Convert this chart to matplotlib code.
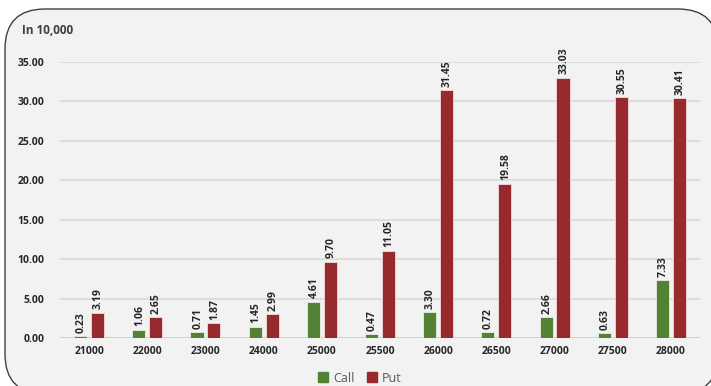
import numpy as np
import matplotlib.pyplot as plt
from matplotlib.patches import FancyBboxPatch, Patch
from matplotlib.transforms import IdentityTransform

strikes = ["21000", "22000", "23000", "24000", "25000", "25500",
           "26000", "26500", "27000", "27500", "28000"]
call_oi = [0.23, 1.06, 0.71, 1.45, 4.61, 0.47, 3.30, 0.72, 2.66, 0.63, 7.33]
put_oi = [3.19, 2.65, 1.87, 2.99, 9.70, 11.05, 31.45, 19.58, 33.03, 30.55, 30.41]

CALL_COLOR = "#548235"
PUT_COLOR = "#962a2c"
TEXT_COLOR = "#262626"

plt.rcParams['font.family'] = ['Open Sans', 'DejaVu Sans']

fig = plt.figure(figsize=(7.11, 3.86), dpi=100)
fig.patch.set_facecolor("white")

# rounded panel behind the chart (pixel coordinates)
panel = FancyBboxPatch((5, -8), 713, 385, boxstyle="round,pad=0,rounding_size=40",
                       transform=IdentityTransform(), facecolor="#f2f2f2",
                       edgecolor="#404040", linewidth=1.0, zorder=-10)
fig.patches.append(panel)

ax = fig.add_axes([60 / 711, 48 / 386, 640 / 711, 276 / 386])
ax.set_facecolor("none")
ax.set_zorder(5)

x = np.arange(len(strikes))
w = 0.225
off = 0.146
bars_c = ax.bar(x - off, call_oi, w, color=CALL_COLOR, edgecolor="#e8efe4",
                linewidth=0.6, zorder=3)
bars_p = ax.bar(x + off, put_oi, w, color=PUT_COLOR, edgecolor="#f0dcdc",
                linewidth=0.6, zorder=3)

for bars, vals in ((bars_c, call_oi), (bars_p, put_oi)):
    for b, v in zip(bars, vals):
        ax.annotate(f"{v:.2f}", (b.get_x() + b.get_width() / 2, v),
                    xytext=(0.5, 2.5), textcoords="offset points",
                    rotation=90, ha="center", va="bottom", fontsize=7.5,
                    fontweight="bold", color=TEXT_COLOR, annotation_clip=False)

ax.set_xlim(-0.5, len(strikes) - 0.5)
ax.set_ylim(0, 35)
ax.set_yticks(np.arange(0, 36, 5))
ax.set_yticklabels([f"{t:.2f}" for t in np.arange(0, 36, 5)])
ax.set_xticks(x)
ax.set_xticklabels(strikes)
ax.tick_params(axis="y", length=0, pad=11, labelsize=7.5, labelcolor=TEXT_COLOR)
ax.tick_params(axis="x", length=0, pad=6, labelsize=7.5, labelcolor=TEXT_COLOR)
for lbl in ax.get_xticklabels() + ax.get_yticklabels():
    lbl.set_fontweight("bold")

ax.grid(axis="y", color="#d9d9d9", linewidth=1.2, zorder=0)
ax.set_axisbelow(True)
for s in ax.spines.values():
    s.set_visible(False)
ax.axhline(0, color="#d0d0d0", linewidth=1.4, zorder=2)

fig.text(22 / 711, 1 - 30 / 386, "In 10,000", fontsize=8.5, fontweight="bold",
         color="#404040", va="center", ha="left")

handles = [Patch(color=CALL_COLOR, label="Call"), Patch(color=PUT_COLOR, label="Put")]
fig.legend(handles=handles, loc="center", bbox_to_anchor=(360 / 711, 1 - 378 / 386),
           ncol=2, frameon=False, fontsize=9, labelcolor="#595959",
           handlelength=0.8, handleheight=0.8, handletextpad=0.4, columnspacing=1.0)

fig.savefig("out.png", dpi=100, facecolor=fig.get_facecolor())
